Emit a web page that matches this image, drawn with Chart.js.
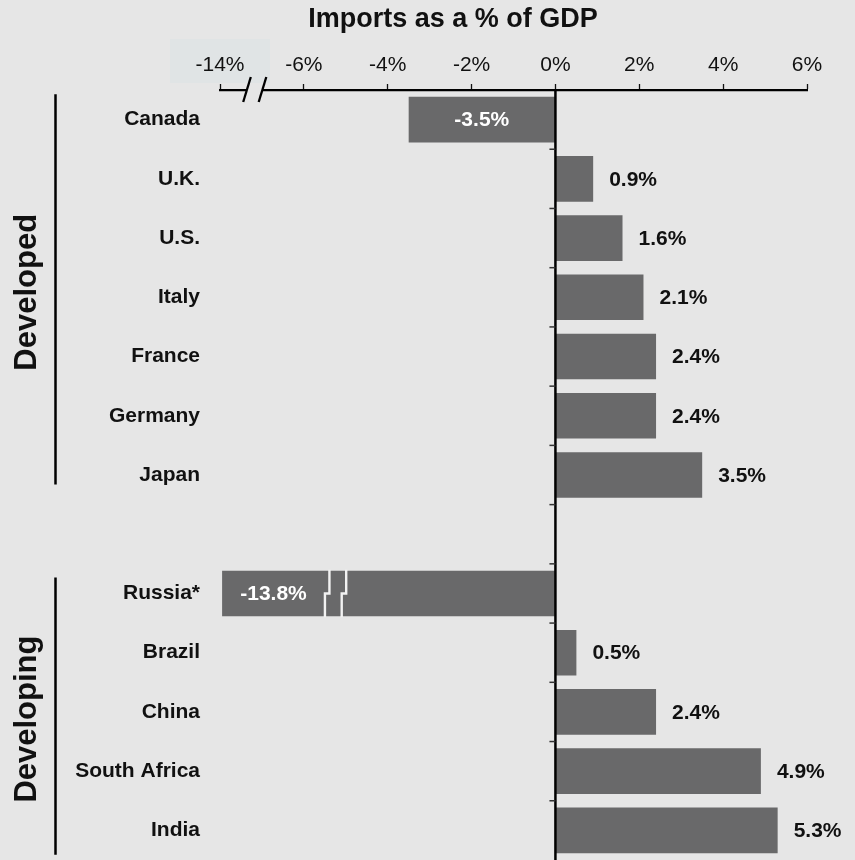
<!DOCTYPE html>
<html>
<head>
<meta charset="utf-8">
<script src="https://cdn.jsdelivr.net/npm/chart.js@4.4.1/dist/chart.umd.min.js"></script>
<style>
  html, body { margin: 0; padding: 0; background: #e6e6e6; }
  canvas { display: block; }
</style>
</head>
<body>
<canvas id="chart" width="855" height="860"></canvas>
<script>
// Countries in display order; the empty entry is the spacer row between the two groups.
const categories = ['Canada', 'U.K.', 'U.S.', 'Italy', 'France', 'Germany', 'Japan', '',
                    'Russia*', 'Brazil', 'China', 'South Africa', 'India'];
// Imports as a % of GDP
const importShare = [-3.5, 0.9, 1.6, 2.1, 2.4, 2.4, 3.5, null, -13.8, 0.5, 2.4, 4.9, 5.3];
const tickValues = [-14, -6, -4, -2, 0, 2, 4, 6];
const groupNames = ['Developed', 'Developing'];
const developedCountries = ['Canada', 'U.K.', 'U.S.', 'Italy', 'France', 'Germany', 'Japan'];
const developingCountries = ['Russia*', 'Brazil', 'China', 'South Africa', 'India'];
const groupMembers = [developedCountries, developingCountries];

// Broken axis: everything below -6% is squeezed to a quarter of its length.
const BREAK_AT = -6;
const COMPRESS = 0.25;
function toAxis(v) {
  if (v === null || v === undefined) return null;
  return v >= BREAK_AT ? v : BREAK_AT + (v - BREAK_AT) * COMPRESS;
}

const FONT = "'Liberation Sans', Arial, Helvetica, sans-serif";
const BG = '#e6e6e6';
const BAR = '#69696a';
const INK = '#111111';
// how far each group bracket reaches past its first / last row centre, in rows
const BRACKET_REACH = [[0.43, 0.16], [0.27, 0.41]];
Chart.defaults.font.family = FONT;

const decorations = {
  id: 'decorations',
  beforeDraw(chart) {
    const { ctx } = chart;
    const xs = chart.scales.x;
    ctx.save();
    ctx.fillStyle = BG;
    ctx.fillRect(0, 0, chart.width, chart.height);
    // pale panel behind the compressed end of the axis
    const px = xs.getPixelForValue(toAxis(tickValues[0]));
    ctx.fillStyle = '#e0e4e5';
    ctx.fillRect(px - 50, 39, 100, 44);
    ctx.restore();
  },
  afterDatasetsDraw(chart) {
    const { ctx, chartArea } = chart;
    const xs = chart.scales.x;
    const ys = chart.scales.y;
    const meta = chart.getDatasetMeta(0);
    const x0 = xs.getPixelForValue(0);
    ctx.save();

    // zig-zag breaks across bars that run past the axis break
    const barBreaks = [-5.39, -4.99];
    meta.data.forEach((bar, i) => {
      const v = importShare[i];
      if (v === null || v >= BREAK_AT) return;
      const top = bar.y - bar.height / 2 - 1;
      const bottom = bar.y + bar.height / 2 + 1;
      ctx.strokeStyle = '#f2f2f2';
      ctx.lineWidth = 2.4;
      barBreaks.forEach(bv => {
        const bx = xs.getPixelForValue(bv);
        ctx.beginPath();
        ctx.moveTo(bx, top);
        ctx.lineTo(bx, bar.y);
        ctx.lineTo(bx - 4.5, bar.y);
        ctx.lineTo(bx - 4.5, bottom);
        ctx.stroke();
      });
    });

    // zero line with small ticks between rows
    ctx.strokeStyle = '#000';
    ctx.lineWidth = 2.5;
    ctx.beginPath();
    ctx.moveTo(x0, chartArea.top);
    ctx.lineTo(x0, chartArea.bottom);
    ctx.stroke();
    ctx.strokeStyle = '#333';
    ctx.lineWidth = 1.5;
    for (let i = 0; i < categories.length - 1; i++) {
      const yb = (ys.getPixelForValue(i) + ys.getPixelForValue(i + 1)) / 2;
      ctx.beginPath();
      ctx.moveTo(x0 - 6, yb);
      ctx.lineTo(x0, yb);
      ctx.stroke();
    }

    // value labels
    ctx.font = `bold 21px ${FONT}`;
    ctx.textBaseline = 'middle';
    meta.data.forEach((bar, i) => {
      const v = importShare[i];
      if (v === null) return;
      const text = v.toFixed(1) + '%';
      if (v >= 0) {
        ctx.fillStyle = INK;
        ctx.textAlign = 'left';
        ctx.fillText(text, bar.x + 16, bar.y + 1);
      } else {
        ctx.fillStyle = '#ffffff';
        ctx.textAlign = 'center';
        const right = v < BREAK_AT ? xs.getPixelForValue(barBreaks[0]) - 4.5 : bar.base;
        ctx.fillText(text, (bar.x + right) / 2, bar.y + 1);
      }
    });
    ctx.restore();
  },
  afterDraw(chart) {
    const { ctx } = chart;
    const xs = chart.scales.x;
    const ys = chart.scales.y;
    const axisY = chart.chartArea.top;
    ctx.save();

    // title
    ctx.fillStyle = INK;
    ctx.font = `bold 27px ${FONT}`;
    ctx.textAlign = 'center';
    ctx.textBaseline = 'alphabetic';
    ctx.fillText('Imports as a % of GDP', 453, 27);

    // axis break marks
    const s1 = xs.left + 27, s2 = xs.left + 42.5;
    ctx.fillStyle = BG;
    ctx.fillRect(s1, axisY - 3, s2 - s1, 5);
    ctx.strokeStyle = '#000';
    ctx.lineWidth = 2.3;
    [s1, s2].forEach(sx => {
      ctx.beginPath();
      ctx.moveTo(sx - 3.8, axisY + 12);
      ctx.lineTo(sx + 3.8, axisY - 13);
      ctx.stroke();
    });

    // group brackets and rotated group names
    const rowH = Math.abs(ys.getPixelForValue(1) - ys.getPixelForValue(0));
    groupMembers.forEach((members, g) => {
      const first = categories.indexOf(members[0]);
      const last = categories.indexOf(members[members.length - 1]);
      const top = ys.getPixelForValue(first) - BRACKET_REACH[g][0] * rowH;
      const bottom = ys.getPixelForValue(last) + BRACKET_REACH[g][1] * rowH;
      ctx.strokeStyle = '#000';
      ctx.lineWidth = 2.5;
      ctx.beginPath();
      ctx.moveTo(55.5, top);
      ctx.lineTo(55.5, bottom);
      ctx.stroke();
      ctx.save();
      ctx.translate(36, (top + bottom) / 2 + 3);
      ctx.rotate(-Math.PI / 2);
      ctx.fillStyle = INK;
      ctx.font = `bold 31px ${FONT}`;
      ctx.textAlign = 'center';
      ctx.textBaseline = 'alphabetic';
      ctx.fillText(groupNames[g], 0, 0);
      ctx.restore();
    });
    ctx.restore();
  }
};

new Chart(document.getElementById('chart'), {
  type: 'bar',
  data: {
    labels: categories,
    datasets: [{
      data: importShare.map(toAxis),
      backgroundColor: BAR,
      borderWidth: 0,
      barPercentage: 0.77,
      categoryPercentage: 1
    }]
  },
  options: {
    responsive: false,
    animation: false,
    indexAxis: 'y',
    layout: { padding: { top: 40, right: 48, bottom: 0, left: 0 } },
    plugins: {
      legend: { display: false },
      tooltip: { enabled: false },
      title: { display: false }
    },
    scales: {
      x: {
        position: 'top',
        min: toAxis(tickValues[0]),
        max: tickValues[tickValues.length - 1],
        afterBuildTicks: scale => {
          scale.ticks = tickValues.map(v => ({ value: toAxis(v) }));
        },
        afterFit: scale => { scale.height = 50; },
        ticks: {
          callback: (value, index) => tickValues[index] + '%',
          font: { size: 21 },
          color: INK,
          padding: 6,
          autoSkip: false,
          maxRotation: 0
        },
        grid: {
          drawOnChartArea: false,
          drawTicks: true,
          tickLength: 6,
          tickColor: INK,
          tickWidth: 1.3
        },
        border: { display: true, color: '#000', width: 2.2 }
      },
      y: {
        position: 'left',
        afterFit: scale => {
          scale.width = 220;
          scale.paddingTop = 0;
          scale.paddingBottom = 0;
        },
        ticks: {
          font: { size: 21, weight: 'bold' },
          color: INK,
          padding: 20,
          autoSkip: false
        },
        grid: { display: false, drawTicks: false },
        border: { display: false }
      }
    }
  },
  plugins: [decorations]
});
</script>
</body>
</html>
